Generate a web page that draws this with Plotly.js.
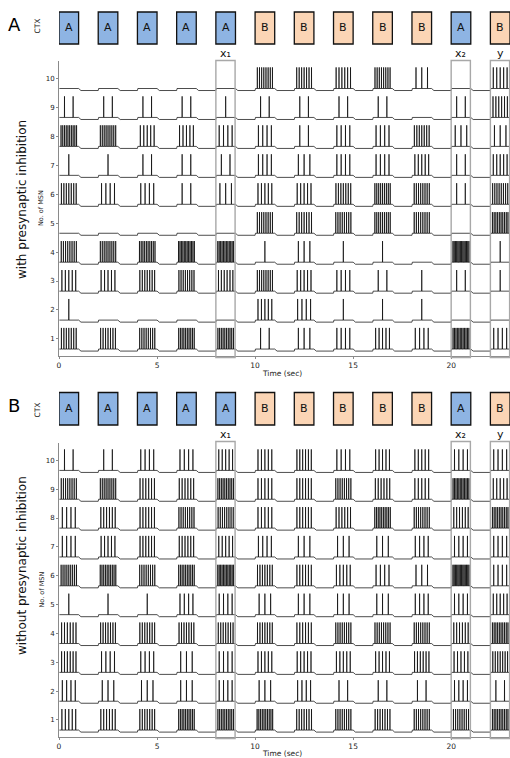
<!DOCTYPE html>
<html>
<head>
<meta charset="utf-8">
<script src="https://cdn.plot.ly/plotly-3.0.1.min.js"></script>
<style>html,body{margin:0;padding:0;background:#fff;}#chart{width:510px;height:758px;}</style>
</head>
<body>
<div id="chart"></div>
<script>
// ---- data ----
const stimOnsets = [0, 2, 4, 6, 8, 10, 12, 14, 16, 18, 20, 22];
const stimLabels = ['A','A','A','A','A','B','B','B','B','B','A','B'];
const neuronIds = [1, 2, 3, 4, 5, 6, 7, 8, 9, 10];
const xTicks = [0, 5, 10, 15, 20];
const highlightIdx = [4, 10, 11];
const highlightLabels = ['x\u2081', 'x\u2082', 'y'];

// spike counts per stimulus window (rows: neuron 1..10), with presynaptic inhibition
const spikesWith = [
  [7, 7, 8, 10, 10, 2, 3, 4, 5, 4, 12, 4],   // 1
  [1, 0, 0, 0, 0, 5, 4, 1, 1, 1, 0, 0],      // 2
  [5, 5, 7, 8, 6, 8, 5, 4, 2, 1, 2, 1],      // 3
  [8, 9, 10, 12, 12, 1, 3, 1, 1, 0, 14, 1],  // 4
  [0, 0, 0, 0, 0, 8, 7, 8, 9, 8, 0, 10],     // 5
  [7, 4, 4, 2, 3, 5, 5, 7, 9, 8, 2, 8],      // 6
  [1, 1, 2, 2, 2, 4, 3, 4, 4, 5, 2, 5],      // 7
  [10, 9, 5, 5, 4, 4, 2, 4, 4, 7, 3, 3],     // 8
  [2, 2, 2, 2, 1, 2, 2, 2, 2, 0, 2, 6],      // 9
  [0, 0, 0, 0, 0, 8, 7, 6, 8, 3, 0, 5]       // 10
];
// without presynaptic inhibition
const spikesWithout = [
  [5, 6, 7, 10, 10, 10, 7, 8, 7, 8, 8, 10],  // 1
  [4, 3, 3, 3, 4, 3, 4, 2, 2, 2, 4, 2],      // 2
  [6, 4, 4, 3, 4, 5, 5, 5, 5, 6, 5, 7],      // 3
  [6, 7, 7, 7, 7, 7, 6, 8, 8, 8, 6, 10],     // 4
  [1, 1, 1, 4, 4, 3, 3, 3, 3, 4, 4, 5],      // 5
  [9, 10, 8, 10, 12, 7, 6, 5, 4, 3, 14, 4],  // 6
  [4, 5, 6, 6, 5, 4, 3, 3, 3, 4, 4, 4],      // 7
  [4, 6, 6, 8, 8, 5, 6, 6, 10, 8, 6, 10],    // 8
  [8, 9, 6, 6, 10, 5, 6, 8, 6, 5, 12, 5],    // 9
  [2, 2, 4, 4, 5, 5, 6, 4, 5, 5, 4, 4]       // 10
];

// ---- geometry helpers (pixels -> paper) ----
const W = 510, H = 758;
const px = v => v / W;
const py = v => 1 - v / H;

function buildTrace(counts, n, yax) {
  const rest = n - 0.42, up = n - 0.35, top = n + 0.38;
  const x = [], y = [];
  stimOnsets.forEach((t0, w) => {
    if (t0 > 0) { x.push(t0); y.push(rest); }
    x.push(t0 + 0.02); y.push(up);
    const k = counts[w];
    for (let i = 0; i < k; i++) {
      const ts = t0 + 0.06 + 0.88 * (i + 0.5) / k;
      x.push(ts - 0.004, ts, ts + 0.004);
      y.push(up, top, up);
    }
    x.push(t0 + 1.0); y.push(up);
    x.push(t0 + 1.12); y.push(rest);
  });
  x.push(23); y.push(rest);
  return {x, y, type: 'scatter', mode: 'lines', xaxis: yax === 'y' ? 'x' : 'x2', yaxis: yax,
          line: {color: '#000', width: 0.7}, hoverinfo: 'skip', showlegend: false};
}

const data = [];
neuronIds.forEach((n, i) => {
  data.push(buildTrace(spikesWith[i], n, 'y'));
  data.push(buildTrace(spikesWithout[i], n, 'y2'));
});

const FONT = 'DejaVu Sans, Verdana, sans-serif';
const axisX = (dom, anchor) => ({
  domain: dom, range: [0, 23], anchor: anchor, showline: true, linecolor: '#8a8a8a', linewidth: 1,
  ticks: 'outside', ticklen: 2, tickcolor: '#8a8a8a', tickvals: xTicks, showgrid: false, zeroline: false,
  tickfont: {size: 7.5, family: FONT, color: '#222'}
});
const axisY = (dom, anchor) => ({
  domain: dom, range: [0.41, 10.6], anchor: anchor, showline: true, linecolor: '#8a8a8a', linewidth: 1,
  ticks: 'outside', ticklen: 2, tickcolor: '#8a8a8a', tickvals: neuronIds, showgrid: false, zeroline: false,
  tickfont: {size: 7, family: FONT, color: '#222'}
});

const shapes = [];
const annotations = [];
const panels = [
  {xref: 'x', top: 61, bottom: 356, boxTop: 12, boxBot: 44, letter: 'A', letterY: 25, ctxY: 26, labY: 53,
   hlTop: 60.5, hlBot: 357.5, timeY: 373, ttl: 'with presynaptic inhibition', ttlY: 200},
  {xref: 'x2', top: 443, bottom: 737, boxTop: 392.5, boxBot: 425, letter: 'B', letterY: 405, ctxY: 410, labY: 434,
   hlTop: 441.5, hlBot: 738.5, timeY: 753, ttl: 'without presynaptic inhibition', ttlY: 566}
];

panels.forEach(p => {
  stimOnsets.forEach((t0, w) => {
    const isA = stimLabels[w] === 'A';
    shapes.push({type: 'rect', xref: p.xref, yref: 'paper', x0: t0, x1: t0 + 1, y0: py(p.boxBot), y1: py(p.boxTop),
      fillcolor: isA ? '#8eb4e3' : '#fbd5b5', line: {color: '#111', width: 1.3}, layer: 'above'});
    annotations.push({xref: p.xref, yref: 'paper', x: t0 + 0.5, y: py((p.boxTop + p.boxBot) / 2), text: stimLabels[w],
      showarrow: false, font: {size: 11, family: FONT, color: '#111'}, xanchor: 'center', yanchor: 'middle'});
  });
  highlightIdx.forEach((w, j) => {
    const t0 = stimOnsets[w];
    shapes.push({type: 'rect', xref: p.xref, yref: 'paper', x0: t0, x1: t0 + 0.98, y0: py(p.hlBot), y1: py(p.hlTop),
      line: {color: '#a8a8a8', width: 1.4}, fillcolor: 'rgba(0,0,0,0)', layer: 'above'});
    annotations.push({xref: p.xref, yref: 'paper', x: t0 + 0.5, y: py(p.labY), text: highlightLabels[j],
      showarrow: false, font: {size: 11, family: FONT, color: '#111'}, xanchor: 'center', yanchor: 'middle'});
  });
  annotations.push({xref: 'paper', yref: 'paper', x: px(14), y: py(p.letterY), text: p.letter, showarrow: false,
    font: {size: 18, family: FONT, color: '#000'}, xanchor: 'center', yanchor: 'middle'});
  annotations.push({xref: 'paper', yref: 'paper', x: px(36.5), y: py(p.ctxY), text: 'CTX', showarrow: false, textangle: -90,
    font: {size: 7.5, family: FONT, color: '#222'}, xanchor: 'center', yanchor: 'middle'});
  annotations.push({xref: 'paper', yref: 'paper', x: px(41.5), y: py((p.top + p.bottom) / 2), text: 'No. of MSN', showarrow: false, textangle: -90,
    font: {size: 6.5, family: FONT, color: '#222'}, xanchor: 'center', yanchor: 'middle'});
  annotations.push({xref: 'paper', yref: 'paper', x: px(22), y: py(p.ttlY), text: p.ttl, showarrow: false, textangle: -90,
    font: {size: 12, family: FONT, color: '#111'}, xanchor: 'center', yanchor: 'middle'});
  annotations.push({xref: 'paper', yref: 'paper', x: px(282), y: py(p.timeY), text: 'Time (sec)', showarrow: false,
    font: {size: 7.5, family: FONT, color: '#222'}, xanchor: 'center', yanchor: 'middle'});
});

const layout = {
  width: W, height: H, margin: {l: 0, r: 0, t: 0, b: 0}, paper_bgcolor: '#fff', plot_bgcolor: '#fff',
  showlegend: false,
  xaxis: axisX([px(59), 1], 'y'),
  yaxis: axisY([py(356), py(61)], 'x'),
  xaxis2: axisX([px(59), 1], 'y2'),
  yaxis2: axisY([py(737), py(443)], 'x2'),
  shapes: shapes, annotations: annotations
};

Plotly.newPlot('chart', data, layout, {displayModeBar: false, staticPlot: true});
</script>
</body>
</html>
